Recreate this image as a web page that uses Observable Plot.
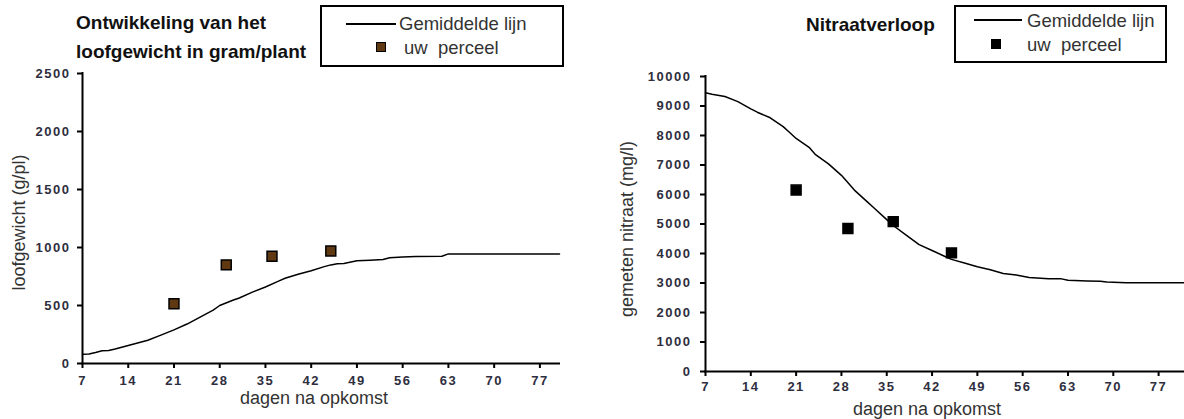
<!DOCTYPE html>
<html><head><meta charset="utf-8">
<script src="https://cdn.jsdelivr.net/npm/d3@7"></script>
<script src="https://cdn.jsdelivr.net/npm/@observablehq/plot@0.6"></script>
<style>
body{margin:0;background:#fff;width:1184px;height:419px;position:relative;overflow:hidden;font-family:"Liberation Sans",Arial,sans-serif;}
.chart{position:absolute;top:0;}
.title{position:absolute;font-weight:bold;font-size:19px;line-height:29px;color:#111;white-space:nowrap;}
.legend{position:absolute;border:2px solid #000;box-sizing:border-box;background:#fff;}
.legend .ln{position:absolute;height:2px;background:#000;}
.legend .mk{position:absolute;width:8px;height:8px;border:1.5px solid #000;}
.legend .tx{position:absolute;font-size:18.5px;line-height:20px;color:#333;white-space:pre;}
svg [aria-label$="tick label"] text{letter-spacing:1.5px;}
</style>
</head><body>
<div id="left" class="chart" style="left:0px"></div>
<div id="right" class="chart" style="left:590px"></div>
<div class="title" style="left:76px;top:8px">Ontwikkeling van het<br>loofgewicht in gram/plant</div>
<div class="title" style="left:806px;top:10px">Nitraatverloop</div>
<div class="legend" style="left:320px;top:5px;width:244px;height:62px">
  <div class="ln" style="left:24px;top:16px;width:50px"></div>
  <div class="tx" style="left:77px;top:7px">Gemiddelde lijn</div>
  <div class="mk" style="left:54px;top:35px;background:#603811"></div>
  <div class="tx" style="left:82px;top:31px">uw  perceel</div>
</div>
<div class="legend" style="left:954px;top:5px;width:213px;height:58px">
  <div class="ln" style="left:18px;top:12px;width:48px"></div>
  <div class="tx" style="left:71px;top:4px">Gemiddelde lijn</div>
  <div class="mk" style="left:35px;top:32px;background:#000"></div>
  <div class="tx" style="left:71px;top:28px">uw  perceel</div>
</div>
<script>
// ---- data ----
const xTicks = [7, 14, 21, 28, 35, 42, 49, 56, 63, 70, 77];

const loofDays = [7, 8, 9, 10, 11, 12, 14, 16, 17, 19, 21, 23, 25, 27, 28, 30, 31, 33, 35, 37, 38, 40, 42, 44, 45, 46, 47, 49, 51, 53, 54, 56, 58, 62, 63, 70, 80];
const loofGem  = [80, 82, 95, 110, 112, 125, 155, 185, 200, 245, 290, 340, 400, 460, 500, 545, 565, 615, 660, 710, 735, 770, 800, 835, 850, 860, 862, 885, 890, 897, 912, 918, 922, 925, 945, 945, 945];
const loofPercDays = [21, 29, 36, 45];
const loofPerceel  = [515, 850, 925, 970];
const loofTicks = [0, 500, 1000, 1500, 2000, 2500];

const nitDays = [7, 8, 10, 12, 14, 15, 17, 19, 20, 21, 23, 24, 26, 28, 30, 32, 33, 35, 36, 38, 40, 42, 44, 45, 47, 49, 51, 53, 55, 57, 60, 62, 63, 66, 68, 69, 72, 81];
const nitGem  = [9450, 9400, 9320, 9150, 8900, 8790, 8600, 8300, 8100, 7900, 7600, 7350, 7040, 6650, 6150, 5750, 5550, 5150, 4950, 4620, 4300, 4100, 3900, 3800, 3680, 3550, 3450, 3320, 3270, 3190, 3140, 3140, 3090, 3070, 3060, 3030, 3010, 3010];
const nitPercDays = [21, 29, 36, 45];
const nitPerceel  = [6150, 4850, 5080, 4020];
const nitTicks = [0, 1000, 2000, 3000, 4000, 5000, 6000, 7000, 8000, 9000, 10000];

function chart(o) {
  const line = o.days.map((d, i) => ({d, v: o.vals[i]}));
  const pts = o.pDays.map((d, i) => ({d, v: o.pVals[i]}));
  return Plot.plot({
    width: o.width, height: 419,
    marginLeft: o.mL, marginRight: o.mR, marginTop: o.mT, marginBottom: o.mB,
    style: {fontFamily: '"Liberation Sans", Arial, sans-serif', fontSize: "13px", background: "transparent", overflow: "visible"},
    x: {domain: o.xDomain},
    y: {domain: o.yDomain},
    marks: [
      Plot.line(line, {x: "d", y: "v", stroke: "#000", strokeWidth: 1.5}),
      Plot.dot(pts, {x: "d", y: "v", symbol: "square", r: 5.6, fill: o.fill, stroke: "#000", strokeWidth: 1.5}),
      Plot.axisX(xTicks, {tickSize: 5, tickPadding: o.xPad, fontWeight: "bold", fill: "#2e2e3e", stroke: "#000", strokeWidth: 2, label: null, fontSize: 13}),
      Plot.axisY(o.yTicks, {tickSize: 5, tickPadding: o.yPad, fontWeight: "bold", fill: "#2e2e3e", stroke: "#000", strokeWidth: 2, label: null, fontSize: 13, tickFormat: d => String(d)}),
      Plot.ruleY([o.yDomain[0]], {stroke: "#000", strokeWidth: 2, strokeLinecap: "square"}),
      Plot.ruleX([o.xDomain[0]], {stroke: "#000", strokeWidth: 2, strokeLinecap: "square"}),
      Plot.text([o.xTitle], {frameAnchor: "bottom", textAnchor: "middle", lineAnchor: "middle", dx: o.xtDx, dy: o.xtDy, fontSize: 18, fill: "#333"}),
      Plot.text([o.yTitle], {frameAnchor: "left", textAnchor: "middle", lineAnchor: "middle", rotate: -90, dx: o.ytDx, dy: o.ytDy, fontSize: 18, fill: "#333"})
    ]
  });
}

document.getElementById("left").appendChild(chart({
  width: 590, mL: 82, mR: 31, mT: 73, mB: 56,
  xDomain: [7, 80], yDomain: [0, 2500], yTicks: loofTicks,
  days: loofDays, vals: loofGem, pDays: loofPercDays, pVals: loofPerceel, fill: "#603811",
  xPad: 7, yPad: 7,
  xTitle: "dagen na opkomst", xtDx: -7, xtDy: 35,
  yTitle: "loofgewicht (g/pl)", ytDx: -63, ytDy: 4
}));
document.getElementById("right").appendChild(chart({
  width: 594, mL: 115, mR: 0, mT: 76, mB: 48,
  xDomain: [7, 81], yDomain: [0, 10000], yTicks: nitTicks,
  days: nitDays, vals: nitGem, pDays: nitPercDays, pVals: nitPerceel, fill: "#000",
  xPad: 5, yPad: 9,
  xTitle: "dagen na opkomst", xtDx: -18, xtDy: 38,
  yTitle: "gemeten nitraat (mg/l)", ytDx: -78, ytDy: 5
}));
</script>
</body></html>
